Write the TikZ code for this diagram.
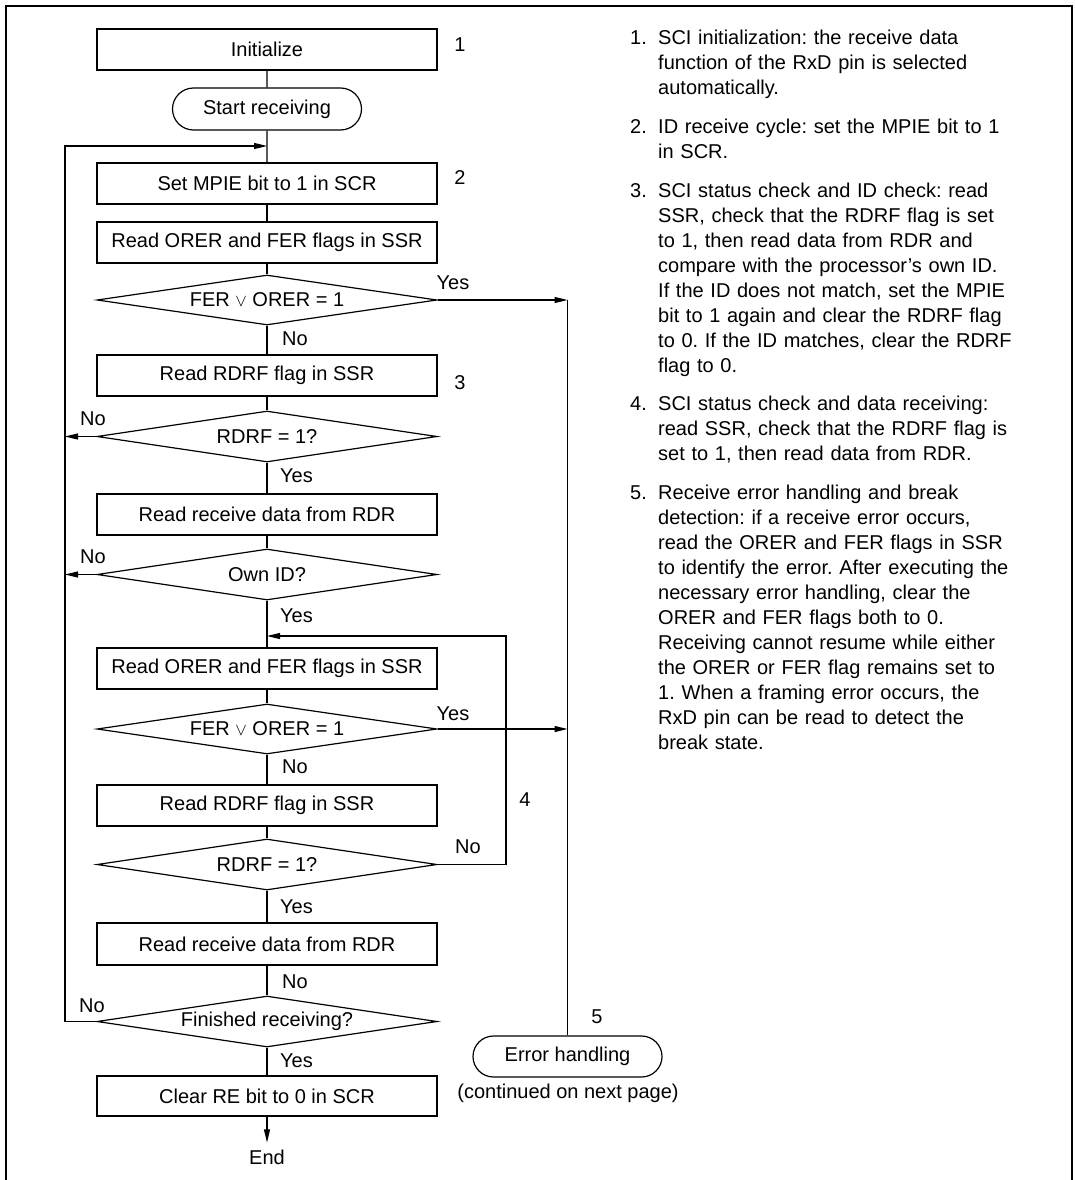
\documentclass[tikz,border=0pt]{standalone}
\usepackage{fontspec}
\setmainfont{Liberation Sans}
\usetikzlibrary{shapes.geometric,shapes.misc,arrows.meta}
\begin{document}
\frenchspacing
\begin{tikzpicture}[x=1pt,y=-1pt,
  every node/.style={font=\fontsize{20}{25}\selectfont\frenchspacing, inner sep=0pt},
  proc/.style={draw, line width=1.2pt, minimum width=340pt, minimum height=41pt},
  term/.style={draw, line width=1.2pt, rounded rectangle, minimum width=189pt, minimum height=42pt},
  dec/.style={draw, line width=1.2pt, diamond, minimum width=340pt, minimum height=50pt},
  conn/.style={line width=1.2pt},
  arr/.style={line width=1.2pt, -{Triangle[length=13pt,width=6pt]}},
  note/.style={anchor=base west, text width=410pt, align=left},
  num/.style={anchor=base west},
]
\useasboundingbox (0,0) rectangle (1074,1180);
% frame
\draw[line width=2.2pt] (6,1180) -- (6,6) -- (1072,6) -- (1072,1180);

% flowchart nodes
\node[proc] (init) at (267,49.5) {Initialize};
\node[term] (start) at (267,109) {Start receiving};
\node[proc] (mpie) at (267,183.5) {Set MPIE bit to 1 in SCR};
\node[proc] (orer1) at (267,242.5) {Read ORER and FER flags in SSR};
\node[dec] (d1) at (267,300) {\makebox[0pt]{FER {\fontsize{17}{17}\selectfont$\vee$} ORER = 1}};
\node[proc] (rdrf1) at (267,375.5) {Read RDRF flag in SSR};
\node[dec, minimum height=51pt] (d2) at (267,436.5) {\makebox[0pt]{RDRF = 1?}};
\node[proc] (rd1) at (267,514.5) {Read receive data from RDR};
\node[dec, minimum height=51pt] (d3) at (267,574.5) {\makebox[0pt]{Own ID?}};
\node[proc] (orer2) at (267,668.5) {Read ORER and FER flags in SSR};
\node[dec] (d4) at (267,729) {\makebox[0pt]{FER {\fontsize{17}{17}\selectfont$\vee$} ORER = 1}};
\node[proc] (rdrf2) at (267,805.5) {Read RDRF flag in SSR};
\node[dec, minimum height=51pt] (d5) at (267,864.5) {\makebox[0pt]{RDRF = 1?}};
\node[proc, minimum height=42pt] (rd2) at (267,944) {Read receive data from RDR};
\node[dec, minimum height=51pt] (d6) at (267,1021.5) {\makebox[0pt]{Finished receiving?}};
\node[proc, minimum height=40pt] (clear) at (267,1096) {Clear RE bit to 0 in SCR};
\node[inner ysep=7pt] (endn) at (267,1157) {End};
\node[term, minimum height=41pt] (err) at (567.5,1056.5) {Error handling};
\node (cont) at (568,1093) {(continued on next page)};

% helper coordinates
\coordinate (j1) at (267,146);
\coordinate (l1) at (65,146);
\coordinate (j4) at (267,636);
\coordinate (r4) at (506,636);

% main vertical connectors
\draw[conn] (init) -- (start);
\draw[conn] (start) -- (mpie);
\draw[conn] (mpie) -- (orer1);
\draw[conn] (orer1) -- (d1);
\draw[conn] (d1) -- (rdrf1);
\draw[conn] (rdrf1) -- (d2);
\draw[conn] (d2) -- (rd1);
\draw[conn] (rd1) -- (d3);
\draw[conn] (d3) -- (orer2);
\draw[conn] (orer2) -- (d4);
\draw[conn] (d4) -- (rdrf2);
\draw[conn] (rdrf2) -- (d5);
\draw[conn] (d5) -- (rd2);
\draw[conn] (rd2) -- (d6);
\draw[conn] (d6) -- (clear);
\draw[arr] (clear) -- (endn);

% loops and branches
\draw[arr] (d6.west) -- (d6.west -| l1) -- (l1) -- (j1);
\draw[arr] (d2.west) -- (d2.west -| l1);
\draw[arr] (d3.west) -- (d3.west -| l1);
\draw[arr] (d1.east) -- (d1.east -| err.north);
\draw[conn] (d1.east -| err.north) -- (err.north);
\draw[arr] (d4.east) -- (d4.east -| err.north);
\draw[arr] (d5.east) -- (d5.east -| r4) -- (r4) -- (j4);

% step numbers
\node (s1) at (460,45) {1};
\node (s2) at (460,178) {2};
\node (s3) at (460,383) {3};
\node (s4) at (525,800) {4};
\node (s5) at (597,1017) {5};

% branch labels
\node (y1) at (453,283) {Yes};
\node[anchor=west] (n1) at (282,339) {No};
\node (n2) at (93,419) {No};
\node[anchor=west] (y2) at (280,476) {Yes};
\node (n3) at (93,557) {No};
\node[anchor=west] (y3) at (280,616) {Yes};
\node (y4) at (453,714) {Yes};
\node[anchor=west] (n4) at (282,767) {No};
\node (n5) at (468,847) {No};
\node[anchor=west] (y5) at (280,907) {Yes};
\node[anchor=west] (n6) at (282,982) {No};
\node (n7) at (92,1006) {No};
\node[anchor=west] (y7) at (280,1061) {Yes};

% notes
\node[num] (k1) at (630,45) {1.};
\node[note] (t1) at (658,45) {SCI initialization: the receive data\\function of the RxD pin is selected\\automatically.};
\node[num] (k2) at (630,133.5) {2.};
\node[note] (t2) at (658,133.5) {ID receive cycle: set the MPIE bit to 1\\in SCR.};
\node[num] (k3) at (630,197) {3.};
\node[note] (t3) at (658,197) {SCI status check and ID check: read\\SSR, check that the RDRF flag is set\\to 1, then read data from RDR and\\compare with the processor’s own ID.\\If the ID does not match, set the MPIE\\bit to 1 again and clear the RDRF flag\\to 0. If the ID matches, clear the RDRF\\flag to 0.};
\node[num] (k4) at (630,410.5) {4.};
\node[note] (t4) at (658,410.5) {SCI status check and data receiving:\\read SSR, check that the RDRF flag is\\set to 1, then read data from RDR.};
\node[num] (k5) at (630,499) {5.};
\node[note] (t5) at (658,499) {Receive error handling and break\\detection: if a receive error occurs,\\read the ORER and FER flags in SSR\\to identify the error. After executing the\\necessary error handling, clear the\\ORER and FER flags both to 0.\\Receiving cannot resume while either\\the ORER or FER flag remains set to\\1. When a framing error occurs, the\\RxD pin can be read to detect the\\break state.};
\end{tikzpicture}
\end{document}
